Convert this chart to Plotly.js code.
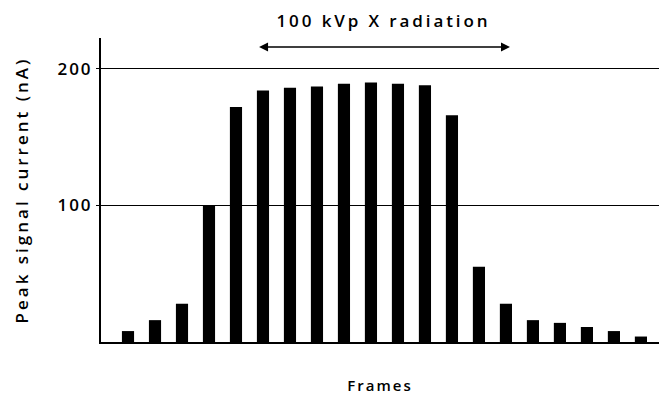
<!DOCTYPE html>
<html>
<head>
<meta charset="utf-8">
<script src="https://cdn.plot.ly/plotly-3.0.1.min.js"></script>
<style>
html,body{margin:0;padding:0;background:#fff}
#chart{width:659px;height:397px}
#chart .ytitle{letter-spacing:3px}
#chart .xtitle{letter-spacing:2px}
#chart .annotation-text{letter-spacing:2.9px}
#chart .ytick text, #chart text.ytick{letter-spacing:2px}
</style>
</head>
<body>
<div id="chart"></div>
<script>
var frames = [1,2,3,4,5,6,7,8,9,10,11,12,13,14,15,16,17,18,19,20];
var peakCurrent = [8,16,28,100,172,184,186,187,189,190,189,188,166,55,28,16,14,11,8,4];
var yTicks = [100, 200];
var yTickLabels = ['100', '200'];
var annotationText = '100 kVp X radiation';
var arrowStart = 5.8, arrowEnd = 15.15, arrowLevel = 216;

var font = 'Open Sans, DejaVu Sans, sans-serif';
var w = 600;
var data = [{
  type: 'bar',
  x: frames,
  y: peakCurrent,
  width: 0.45,
  marker: {color: '#000', line: {width: 0}},
  hoverinfo: 'x+y'
}];
var layout = {
  width: 659, height: 397,
  margin: {l: 101, r: 0, t: 38, b: 55},
  paper_bgcolor: '#fff', plot_bgcolor: '#fff',
  showlegend: false,
  xaxis: {
    range: [0, 20.67],
    showticklabels: false, ticks: '',
    showgrid: false, zeroline: false,
    showline: true, linecolor: '#000', linewidth: 2,
    title: {text: 'Frames', font: {family: font, size: 15, weight: w, color: '#000'}, standoff: 37}
  },
  yaxis: {
    range: [0, 222.5],
    tickvals: yTicks, ticktext: yTickLabels,
    tickfont: {family: font, size: 17, weight: w, color: '#000'},
    ticks: 'outside', ticklen: 3, tickcolor: '#000',
    showgrid: true, gridcolor: '#000', gridwidth: 1,
    zeroline: false,
    showline: true, linecolor: '#000', linewidth: 2,
    title: {text: 'Peak signal current (nA)', font: {family: font, size: 17, weight: w, color: '#000'}, standoff: 30}
  },
  annotations: [
    {
      x: arrowEnd, y: arrowLevel, xref: 'x', yref: 'y',
      ax: arrowStart, ay: arrowLevel, axref: 'x', ayref: 'y',
      text: '', showarrow: true, arrowhead: 2, arrowside: 'end+start',
      arrowsize: 1.2, arrowwidth: 1.5, arrowcolor: '#000'
    },
    {
      x: (arrowStart + arrowEnd) / 2, y: 1.059, xref: 'x', yref: 'paper',
      xanchor: 'center', yanchor: 'middle',
      text: annotationText, showarrow: false,
      font: {family: font, size: 17, weight: w, color: '#000'}
    }
  ]
};
Plotly.newPlot('chart', data, layout, {displayModeBar: false, staticPlot: true});
</script>
</body>
</html>
